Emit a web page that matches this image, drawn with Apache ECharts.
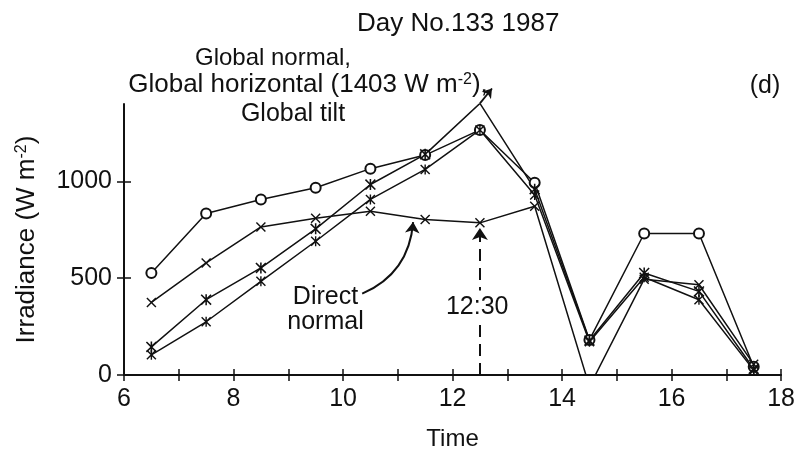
<!DOCTYPE html>
<html>
<head>
<meta charset="utf-8">
<style>
  html, body { margin: 0; padding: 0; background: #fff; }
  #chart { width: 798px; height: 458px; }
</style>
<script src="https://cdn.jsdelivr.net/npm/echarts@6/dist/echarts.min.js"></script>
</head>
<body>
<div id="chart"></div>
<script>
// Hourly readings, day 133 of 1987
const times = [6.5, 7.5, 8.5, 9.5, 10.5, 11.5, 12.5, 13.5, 14.5, 15.5, 16.5, 17.5];
const globalNormal = [527, 834, 907, 967, 1066, 1136, 1266, 993, 181, 731, 731, 43];
const globalHorizontal = [145, 389, 553, 755, 984, 1140, 1403, 960, 178, 527, 432, 32];
const globalTilt = [104, 275, 484, 691, 907, 1062, 1266, 930, 172, 505, 389, 25];
const directNormal = [375, 579, 765, 810, 846, 803, 786, 872, -60, 495, 466, 55];

const yTickValues = [0, 500, 1000];
const xTickLabels = ['6', '8', '10', '12', '14', '16', '18'];

const FONT = "'Liberation Sans', Arial, Helvetica, sans-serif";
const INK = '#111';

const pairs = vals => times.map((t, i) => [t, vals[i]]);

const crossSym = 'path://M1,0 L5,4 L9,0 L10,1 L6,5 L10,9 L9,10 L5,6 L1,10 L0,9 L4,5 L0,1 Z';
const starSym = 'path://M1,0 L5,4 L9,0 L10,1 L6,5 L10,9 L9,10 L5,6 L1,10 L0,9 L4,5 L0,1 Z M4.3,0 L5.7,0 L5.7,10 L4.3,10 Z';

function lineSeries(name, vals, symbol, size, extra) {
  return Object.assign({
    name: name,
    type: 'line',
    data: pairs(vals),
    symbol: symbol,
    symbolSize: size,
    showAllSymbol: true,
    clip: true,
    lineStyle: { color: INK, width: 1.5 },
    itemStyle: { color: INK, borderColor: INK, borderWidth: symbol === 'emptyCircle' ? 1.8 : 0 },
    emphasis: { disabled: true },
    z: 3
  }, extra || {});
}

const chart = echarts.init(document.getElementById('chart'), null, { renderer: 'canvas' });

const labelText = { color: INK, fontFamily: FONT, fontSize: 25 };

chart.setOption({
  animation: false,
  backgroundColor: '#fff',
  title: {
    text: 'Day No.133 1987',
    left: 352,
    top: 6,
    textStyle: { color: INK, fontFamily: FONT, fontSize: 26, fontWeight: 'normal' }
  },
  grid: { left: 124, right: 16, top: 104, bottom: 83 },
  xAxis: [
    {
      type: 'value', min: 6, max: 18, interval: 1,
      name: 'Time', nameLocation: 'middle', nameGap: 52,
      nameTextStyle: { color: INK, fontFamily: FONT, fontSize: 24 },
      axisLine: { lineStyle: { color: INK, width: 2 } },
      axisTick: { show: true, inside: false, length: 6, lineStyle: { color: INK, width: 1.5 } },
      axisLabel: {
        interval: 1, margin: 12, color: INK, fontFamily: FONT, fontSize: 25,
        formatter: v => (xTickLabels.indexOf(String(v)) >= 0 ? String(v) : '')
      },
      splitLine: { show: false }
    },
    {
      type: 'value', min: 6, max: 18, interval: 1, position: 'bottom',
      axisLine: { show: false },
      axisTick: { show: true, inside: true, length: 6, lineStyle: { color: INK, width: 1.5 } },
      axisLabel: { show: false },
      splitLine: { show: false }
    }
  ],
  yAxis: [
    {
      type: 'value', min: 0, max: 1400,
      name: '{n|Irradiance (W m}{s|-2}{n|)}',
      nameLocation: 'middle', nameGap: 84, nameRotate: 90,
      nameTextStyle: {
        rich: {
          n: { color: INK, fontFamily: FONT, fontSize: 26 },
          s: { color: INK, fontFamily: FONT, fontSize: 16, verticalAlign: 'top' }
        }
      },
      axisLine: { show: true, lineStyle: { color: INK, width: 2 } },
      axisTick: { show: true, inside: false, length: 7, customValues: yTickValues, lineStyle: { color: INK, width: 1.5 } },
      axisLabel: {
        customValues: yTickValues, margin: 12, color: INK, fontFamily: FONT, fontSize: 25,
        formatter: v => String(v)
      },
      splitLine: { show: false }
    },
    {
      type: 'value', min: 0, max: 1400, position: 'left',
      axisLine: { show: false },
      axisTick: { show: true, inside: true, length: 7, customValues: yTickValues, lineStyle: { color: INK, width: 1.5 } },
      axisLabel: { show: false },
      splitLine: { show: false }
    }
  ],
  graphic: [
    {
      type: 'text',
      style: { text: 'Global normal,', x: 273, y: 58, textAlign: 'center', textVerticalAlign: 'middle', fill: INK, font: '24px ' + FONT }
    },
    {
      type: 'text',
      style: {
        x: 308, y: 85, textAlign: 'center', textVerticalAlign: 'middle',
        text: '{n|Global horizontal (1403 W m}{s|-2}{n|),}',
        rich: {
          n: { fill: INK, fontFamily: FONT, fontSize: 26 },
          s: { fill: INK, fontFamily: FONT, fontSize: 16, verticalAlign: 'top' }
        }
      }
    },
    {
      type: 'text',
      style: { text: 'Global tilt', x: 293, y: 114, textAlign: 'center', textVerticalAlign: 'middle', fill: INK, font: '25px ' + FONT }
    },
    {
      type: 'text',
      style: { text: '(d)', x: 765, y: 86, textAlign: 'center', textVerticalAlign: 'middle', fill: INK, font: '25px ' + FONT }
    }
  ],
  series: [
    lineSeries('Global normal', globalNormal, 'emptyCircle', 10),
    lineSeries('Global horizontal', globalHorizontal, starSym, 11),
    lineSeries('Global tilt', globalTilt, starSym, 10),
    lineSeries('Direct normal', directNormal, crossSym, 10, {
      markLine: {
        silent: true,
        symbol: ['none', 'arrow'],
        symbolSize: 12,
        label: { show: false },
        lineStyle: { color: INK, width: 2, type: [12, 7] },
        data: [
          [ { coord: [12.5, 0] }, { coord: [12.5, 760] } ]
        ]
      },
      markPoint: {
        silent: true,
        symbol: 'circle',
        symbolSize: 1,
        itemStyle: { color: 'rgba(0,0,0,0)' },
        data: [
          {
            coord: [9.68, 336],
            label: { show: true, position: 'inside', formatter: 'Direct\nnormal', lineHeight: 25, align: 'center', ...labelText }
          },
          {
            coord: [12.45, 351],
            label: { show: true, position: 'inside', formatter: '12:30', backgroundColor: '#fff', padding: [4, 2], ...labelText }
          }
        ]
      }
    }),
    // curved pointer from the "Direct normal" caption up to its line
    {
      name: 'pointer',
      type: 'lines',
      coordinateSystem: 'cartesian2d',
      silent: true,
      symbol: ['none', 'arrow'],
      symbolSize: 11,
      lineStyle: { color: INK, width: 2, curveness: -0.3, opacity: 1 },
      data: [ { coords: [[10.35, 420], [11.28, 790]] } ],
      z: 4
    },
    // short leader from the noon peak up to the global caption
    {
      name: 'peak leader',
      type: 'lines',
      coordinateSystem: 'cartesian2d',
      silent: true,
      clip: false,
      symbol: ['none', 'arrow'],
      symbolSize: 9,
      lineStyle: { color: INK, width: 1.8, opacity: 1 },
      data: [ { coords: [[12.5, 1403], [12.72, 1480]] } ],
      z: 4
    }
  ]
});
</script>
</body>
</html>
